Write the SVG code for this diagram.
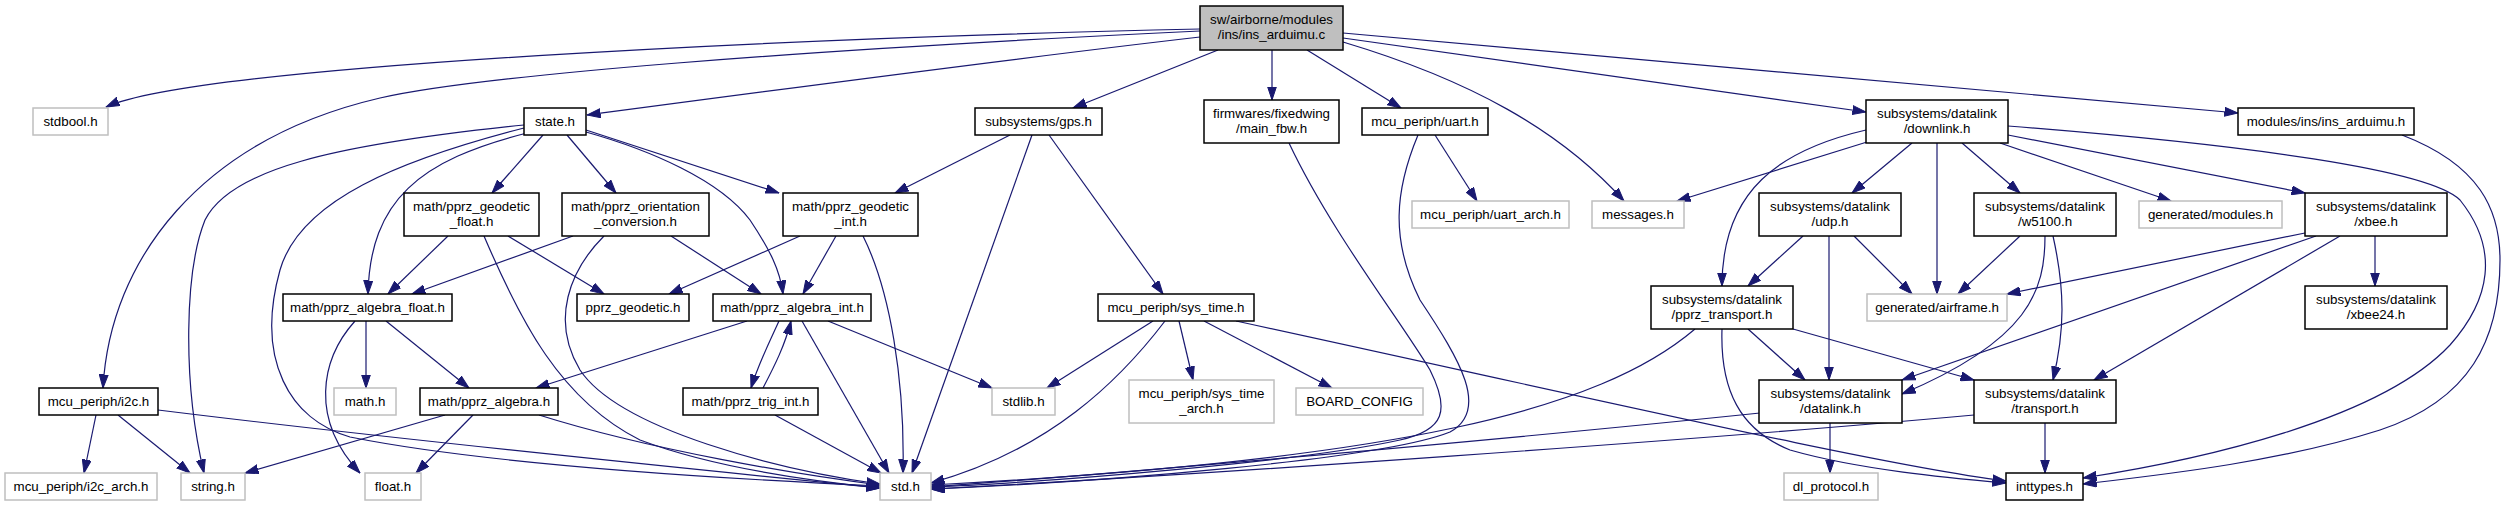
<svg xmlns="http://www.w3.org/2000/svg" width="2505" height="507" viewBox="0 0 2505 507">
<defs>
<marker id="a" markerWidth="14" markerHeight="10" refX="13.5" refY="5" orient="auto" markerUnits="userSpaceOnUse"><path d="M0,0.5 L13.5,5 L0,9.5 z" fill="#191970" stroke="#191970" stroke-width="1"/></marker>
<style>
.n{fill:#fff;stroke:#000;stroke-width:1.5}
.u{fill:#fff;stroke:#bfbfbf;stroke-width:1.5}
.m{fill:#bfbfbf;stroke:#000;stroke-width:1.5}
text{font-family:"Liberation Sans",Arial,sans-serif;font-size:13.33px;fill:#000;text-anchor:middle}
#edges path{fill:none;stroke:#191970;stroke-width:1.2;marker-end:url(#a)}
</style>
</defs>
<rect width="2505" height="507" fill="#fff"/>
<g id="edges">
<path d="M1200,29 C800,38 200,65 106,107"/>
<path d="M1200,37 C1000,60 700,100 587,115"/>
<path d="M1200,31 C800,50 480,75 380,98 C200,140 110,260 103,388"/>
<path d="M1218,50 L1073,108"/>
<path d="M1272,50 L1272,100"/>
<path d="M1307,50 L1401,108"/>
<path d="M1343,42 C1470,80 1560,130 1624,201"/>
<path d="M1343,38 L1866,112"/>
<path d="M1343,33 L2238,113"/>
<path d="M543,135 L492,193"/>
<path d="M567,135 L616,193"/>
<path d="M586,130 L779,193"/>
<path d="M586,132 C650,150 720,180 750,220 C770,250 780,270 783,294"/>
<path d="M527,133 C420,160 370,200 368,294"/>
<path d="M524,125 C330,145 230,170 205,220 C185,270 182,380 204,473"/>
<path d="M524,128 C400,160 300,200 280,270 C255,360 290,420 350,437 C500,467 750,480 880,486"/>
<path d="M448,236 L388,294"/>
<path d="M484,236 C520,320 560,400 640,440 C720,470 820,482 880,488"/>
<path d="M508,236 L604,294"/>
<path d="M573,236 L412,294"/>
<path d="M604,236 C570,270 550,320 580,370 C620,430 780,470 880,484"/>
<path d="M671,236 L761,294"/>
<path d="M800,236 L669,294"/>
<path d="M836,236 L803,294"/>
<path d="M863,236 C890,290 905,380 903,473"/>
<path d="M1010,135 L895,193"/>
<path d="M1032,135 L912,473"/>
<path d="M1049,135 L1163,294"/>
<path d="M1289,143 C1330,230 1400,320 1430,370 C1450,410 1445,430 1400,440 C1300,462 1050,482 931,487"/>
<path d="M1418,135 C1395,190 1390,240 1420,300 C1460,360 1490,410 1450,432 C1380,460 1100,482 931,489"/>
<path d="M1435,135 L1477,201"/>
<path d="M1867,142 L1677,201"/>
<path d="M1866,130 C1780,150 1722,190 1722,286"/>
<path d="M1912,143 L1852,193"/>
<path d="M1937,143 L1937,294"/>
<path d="M1962,143 L2020,193"/>
<path d="M2000,143 L2171,201"/>
<path d="M2008,135 L2305,193"/>
<path d="M2008,126 C2250,145 2430,170 2460,200 C2500,250 2490,300 2450,345 C2380,420 2200,460 2083,478"/>
<path d="M2402,135 C2480,165 2500,210 2500,260 C2500,340 2470,400 2380,430 C2280,462 2160,475 2083,484"/>
<path d="M1803,236 L1748,286"/>
<path d="M1854,236 L1912,294"/>
<path d="M1829,236 L1829,380"/>
<path d="M2020,236 L1958,294"/>
<path d="M2045,236 C2045,290 2030,340 1902,394"/>
<path d="M2053,236 C2065,290 2065,330 2053,380"/>
<path d="M2305,233 L2007,294"/>
<path d="M2316,236 L1902,380"/>
<path d="M2340,236 L2094,380"/>
<path d="M2375,236 L2375,286"/>
<path d="M1695,329 C1600,410 1400,460 931,485"/>
<path d="M1748,329 L1805,380"/>
<path d="M1793,329 L1974,380"/>
<path d="M1722,329 C1720,390 1740,430 1790,450 C1860,470 1950,478 2006,483"/>
<path d="M1236,321 C1600,400 1880,465 2006,481"/>
<path d="M1760,413 C1500,440 1100,475 931,487"/>
<path d="M1830,423 L1830,473"/>
<path d="M1974,415 C1700,440 1200,475 931,489"/>
<path d="M2045,423 L2045,473"/>
<path d="M1153,321 L1047,388"/>
<path d="M1165,321 C1120,380 1050,450 931,483"/>
<path d="M1179,321 L1193,380"/>
<path d="M1204,321 L1332,388"/>
<path d="M747,321 L536,388"/>
<path d="M779,321 C768,345 758,365 751,388"/>
<path d="M763,388 C775,365 785,345 791,321"/>
<path d="M802,321 L889,473"/>
<path d="M828,321 L992,388"/>
<path d="M775,415 L881,473"/>
<path d="M96,415 L84,473"/>
<path d="M118,415 L190,473"/>
<path d="M158,410 C400,440 700,470 880,488"/>
<path d="M355,321 C320,360 310,420 360,473"/>
<path d="M366,321 L366,388"/>
<path d="M386,321 L469,388"/>
<path d="M445,415 L245,473"/>
<path d="M473,415 L416,473"/>
<path d="M539,415 C650,450 800,475 880,485"/>
</g>
<g id="main"><rect class="m" x="1200" y="6" width="143" height="44"/><text x="1271.5" y="24">sw/airborne/modules</text><text x="1271.5" y="39">/ins/ins_arduimu.c</text></g>
<g id="stdbool"><rect class="u" x="33" y="108" width="75" height="27"/><text x="70.5" y="126">stdbool.h</text></g>
<g id="state"><rect class="n" x="524" y="108" width="62" height="27"/><text x="555" y="126">state.h</text></g>
<g id="gps"><rect class="n" x="975" y="108" width="127" height="27"/><text x="1038.5" y="126">subsystems/gps.h</text></g>
<g id="main_fbw"><rect class="n" x="1204" y="100" width="135" height="43"/><text x="1271.5" y="117.5">firmwares/fixedwing</text><text x="1271.5" y="132.5">/main_fbw.h</text></g>
<g id="uart"><rect class="n" x="1362" y="108" width="126" height="27"/><text x="1425" y="126">mcu_periph/uart.h</text></g>
<g id="downlink"><rect class="n" x="1866" y="100" width="142" height="43"/><text x="1937" y="117.5">subsystems/datalink</text><text x="1937" y="132.5">/downlink.h</text></g>
<g id="ins_arduimu_h"><rect class="n" x="2238" y="108" width="176" height="27"/><text x="2326" y="126">modules/ins/ins_arduimu.h</text></g>
<g id="geodetic_float"><rect class="n" x="404" y="193" width="135" height="43"/><text x="471.5" y="210.5">math/pprz_geodetic</text><text x="471.5" y="225.5">_float.h</text></g>
<g id="orientation"><rect class="n" x="562" y="193" width="147" height="43"/><text x="635.5" y="210.5">math/pprz_orientation</text><text x="635.5" y="225.5">_conversion.h</text></g>
<g id="geodetic_int"><rect class="n" x="783" y="193" width="135" height="43"/><text x="850.5" y="210.5">math/pprz_geodetic</text><text x="850.5" y="225.5">_int.h</text></g>
<g id="uart_arch"><rect class="u" x="1412" y="201" width="157" height="27"/><text x="1490.5" y="219">mcu_periph/uart_arch.h</text></g>
<g id="messages"><rect class="u" x="1592" y="201" width="92" height="27"/><text x="1638" y="219">messages.h</text></g>
<g id="udp"><rect class="n" x="1759" y="193" width="142" height="43"/><text x="1830" y="210.5">subsystems/datalink</text><text x="1830" y="225.5">/udp.h</text></g>
<g id="w5100"><rect class="n" x="1974" y="193" width="142" height="43"/><text x="2045" y="210.5">subsystems/datalink</text><text x="2045" y="225.5">/w5100.h</text></g>
<g id="modules"><rect class="u" x="2139" y="201" width="143" height="27"/><text x="2210.5" y="219">generated/modules.h</text></g>
<g id="xbee"><rect class="n" x="2305" y="193" width="142" height="43"/><text x="2376" y="210.5">subsystems/datalink</text><text x="2376" y="225.5">/xbee.h</text></g>
<g id="algebra_float"><rect class="n" x="283" y="294" width="169" height="27"/><text x="367.5" y="312">math/pprz_algebra_float.h</text></g>
<g id="geodetic"><rect class="n" x="577" y="294" width="112" height="27"/><text x="633" y="312">pprz_geodetic.h</text></g>
<g id="algebra_int"><rect class="n" x="713" y="294" width="158" height="27"/><text x="792" y="312">math/pprz_algebra_int.h</text></g>
<g id="sys_time"><rect class="n" x="1098" y="294" width="156" height="27"/><text x="1176" y="312">mcu_periph/sys_time.h</text></g>
<g id="pprz_transport"><rect class="n" x="1651" y="286" width="142" height="43"/><text x="1722" y="303.5">subsystems/datalink</text><text x="1722" y="318.5">/pprz_transport.h</text></g>
<g id="airframe"><rect class="u" x="1867" y="294" width="140" height="27"/><text x="1937" y="312">generated/airframe.h</text></g>
<g id="xbee24"><rect class="n" x="2305" y="286" width="142" height="43"/><text x="2376" y="303.5">subsystems/datalink</text><text x="2376" y="318.5">/xbee24.h</text></g>
<g id="i2c"><rect class="n" x="39" y="388" width="119" height="27"/><text x="98.5" y="406">mcu_periph/i2c.h</text></g>
<g id="math"><rect class="u" x="334" y="388" width="62" height="27"/><text x="365" y="406">math.h</text></g>
<g id="algebra"><rect class="n" x="420" y="388" width="138" height="27"/><text x="489" y="406">math/pprz_algebra.h</text></g>
<g id="trig_int"><rect class="n" x="683" y="388" width="135" height="27"/><text x="750.5" y="406">math/pprz_trig_int.h</text></g>
<g id="stdlib"><rect class="u" x="992" y="388" width="63" height="27"/><text x="1023.5" y="406">stdlib.h</text></g>
<g id="sys_time_arch"><rect class="u" x="1129" y="380" width="145" height="43"/><text x="1201.5" y="397.5">mcu_periph/sys_time</text><text x="1201.5" y="412.5">_arch.h</text></g>
<g id="board_config"><rect class="u" x="1296" y="388" width="127" height="27"/><text x="1359.5" y="406">BOARD_CONFIG</text></g>
<g id="datalink"><rect class="n" x="1759" y="380" width="143" height="43"/><text x="1830.5" y="397.5">subsystems/datalink</text><text x="1830.5" y="412.5">/datalink.h</text></g>
<g id="transport"><rect class="n" x="1974" y="380" width="142" height="43"/><text x="2045" y="397.5">subsystems/datalink</text><text x="2045" y="412.5">/transport.h</text></g>
<g id="i2c_arch"><rect class="u" x="5" y="473" width="152" height="27"/><text x="81" y="491">mcu_periph/i2c_arch.h</text></g>
<g id="string"><rect class="u" x="181" y="473" width="64" height="27"/><text x="213" y="491">string.h</text></g>
<g id="float"><rect class="u" x="365" y="473" width="56" height="27"/><text x="393" y="491">float.h</text></g>
<g id="std"><rect class="u" x="880" y="473" width="51" height="27"/><text x="905.5" y="491">std.h</text></g>
<g id="dl_protocol"><rect class="u" x="1784" y="473" width="94" height="27"/><text x="1831" y="491">dl_protocol.h</text></g>
<g id="inttypes"><rect class="n" x="2006" y="473" width="77" height="27"/><text x="2044.5" y="491">inttypes.h</text></g>
</svg>
